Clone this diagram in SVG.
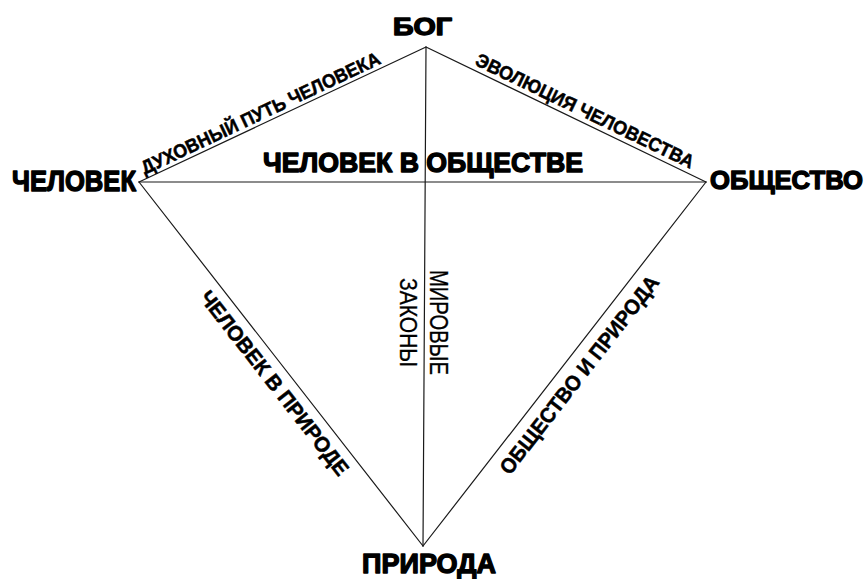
<svg xmlns="http://www.w3.org/2000/svg" width="865" height="579" viewBox="0 0 865 579">
<style>
.edge{stroke:#1a1a1a;stroke-width:1.2;fill:none;stroke-linecap:round}
.node{font-family:"Liberation Sans","DejaVu Sans",sans-serif;font-weight:bold;fill:#000;stroke:#000;stroke-width:1.4;stroke-linejoin:round}
.lbl{font-family:"Liberation Sans","DejaVu Sans",sans-serif;font-weight:bold;fill:#000;stroke:#000;stroke-width:0.5}
.thin{font-family:"Liberation Sans","DejaVu Sans",sans-serif;font-weight:normal;fill:#000;stroke:#000;stroke-width:0.3}
</style>
<rect width="865" height="579" fill="#fff"/>
<g id="connectors">
<line class="edge" x1="426" y1="47" x2="139" y2="182"/>
<line class="edge" x1="426" y1="47" x2="706" y2="182"/>
<line class="edge" x1="139" y1="182" x2="423" y2="546"/>
<line class="edge" x1="706" y1="182" x2="423" y2="546"/>
<line class="edge" x1="139" y1="182" x2="706" y2="182"/>
<line class="edge" x1="426" y1="47" x2="423" y2="546"/>
</g>
<g id="edge-labels">
<g id="label-dukhovny" transform="translate(265,122.7) rotate(-25.2)">
<text class="lbl" x="0" y="-4" font-size="19" text-anchor="middle" textLength="262" lengthAdjust="spacingAndGlyphs">ДУХОВНЫЙ ПУТЬ ЧЕЛОВЕКА</text>
</g>
<g id="label-evolutsiya" transform="translate(580,121.2) rotate(25.74)">
<text class="lbl" x="0" y="-5" font-size="19" text-anchor="middle" textLength="240" lengthAdjust="spacingAndGlyphs">ЭВОЛЮЦИЯ ЧЕЛОВЕСТВА</text>
</g>
<g id="label-v-obshchestve">
<text class="node" x="423" y="172" font-size="27" text-anchor="middle" textLength="320" lengthAdjust="spacingAndGlyphs">ЧЕЛОВЕК В ОБЩЕСТВЕ</text>
</g>
<g id="label-v-prirode" transform="translate(286,374) rotate(52.03)">
<text class="lbl" x="0" y="22" font-size="21" text-anchor="middle" textLength="228" lengthAdjust="spacingAndGlyphs">ЧЕЛОВЕК В ПРИРОДЕ</text>
</g>
<g id="label-obshchestvo-priroda" transform="translate(566,364.5) rotate(-52.1)">
<text class="lbl" x="0" y="24" font-size="21" text-anchor="middle" textLength="245" lengthAdjust="spacingAndGlyphs">ОБЩЕСТВО И ПРИРОДА</text>
</g>
<g id="label-mirovye-zakony">
<text class="thin" transform="translate(430,322.5) rotate(90)" x="0" y="0" font-size="25" text-anchor="middle" textLength="105" lengthAdjust="spacingAndGlyphs">МИРОВЫЕ</text>
<text class="thin" transform="translate(400,322.5) rotate(90)" x="0" y="0" font-size="24" text-anchor="middle" textLength="89" lengthAdjust="spacingAndGlyphs">ЗАКОНЫ</text>
</g>
</g>
<g id="node-bog">
<text class="node" x="422.5" y="35" font-size="24" text-anchor="middle" textLength="59" lengthAdjust="spacingAndGlyphs">БОГ</text>
</g>
<g id="node-chelovek">
<text class="node" x="74" y="191" font-size="29" text-anchor="middle" textLength="124" lengthAdjust="spacingAndGlyphs">ЧЕЛОВЕК</text>
</g>
<g id="node-obshchestvo">
<text class="node" x="786.5" y="189" font-size="26" text-anchor="middle" textLength="153" lengthAdjust="spacingAndGlyphs">ОБЩЕСТВО</text>
</g>
<g id="node-priroda">
<text class="node" x="429" y="573" font-size="28" text-anchor="middle" textLength="134" lengthAdjust="spacingAndGlyphs">ПРИРОДА</text>
</g>
</svg>
